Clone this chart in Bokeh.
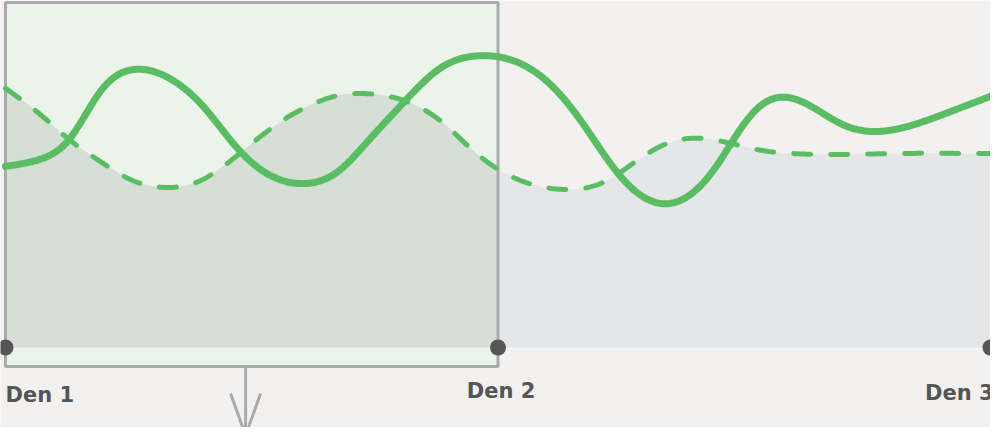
import numpy as np
from bokeh.plotting import figure
from bokeh.models import Range1d
from bokeh.core.properties import value
from bokeh.embed import file_html
from bokeh.resources import INLINE

# ---- data (hours from start of Den 1, value) ----
solid_x = [0, 1.6, 3.1, 4.7, 6.3, 7.9, 9.6, 11.4, 12.9, 14.5, 16.2, 17.6, 19.4, 21.1,
           23.3, 25.2, 26.7, 28.1, 29.9, 32.0, 33.5, 34.6, 35.7, 36.7, 37.7, 39.2,
           40.8, 42.3, 44.1, 46.2, 48.0]
solid_y = [52.5, 54.4, 60.3, 74.8, 80.6, 78.3, 70.1, 57.1, 49.9, 47.5, 51.0, 59.4, 71.0, 80.6,
           84.6, 82.0, 75.4, 65.2, 50.1, 41.7, 44.9, 52.2, 62.3, 69.6, 72.5, 70.1,
           64.6, 62.6, 64.3, 68.7, 72.8]

dash_x = [0, 1.7, 3.1, 4.7, 6.2, 7.75, 9.4, 11.4, 13.2, 14.8, 16.2, 17.5, 18.9,
          21.3, 22.9, 24.2, 25.7, 27.4, 29.1, 31.0, 32.5, 33.97, 35.4, 36.9, 38.4,
          43.2, 48.0]
dash_y = [75.1, 67.5, 60.3, 53.6, 48.4, 46.4, 48.1, 56.2, 64.6, 70.1, 73.0, 73.6, 72.5,
          65.2, 56.5, 51.0, 47.2, 45.8, 47.8, 55.1, 59.7, 60.6, 59.1, 57.1, 56.2,
          56.2, 56.2]

day_x = [0, 24, 48]
day_labels = ["Den 1", "Den 2", "Den 3"]
highlight = dict(left=0, right=24, bottom=-5.5, top=100)
arrow_x = 11.7

# ---- colours ----
BG = "#f2f1f0"
GREEN = "#5bbd63"
AREA = "#e5e6e8"
AREA_IN = "#d5dfd5"
RECT_FILL = "#ebf4e9"
RECT_LINE = "#a9aaae"
DARK = "#555555"

PX_X = 990 / 48.244      # pixels per hour
PX_Y = 427 / 123.77      # pixels per value unit


def smooth(xs, ys, n=1200):
    """Natural cubic spline rendering of a curve through the read points."""
    x = np.asarray(xs, float)
    y = np.asarray(ys, float)
    k = len(x)
    h = np.diff(x)
    A = np.zeros((k, k))
    b = np.zeros(k)
    A[0, 0] = A[-1, -1] = 1
    for i in range(1, k - 1):
        A[i, i - 1] = h[i - 1]
        A[i, i] = 2 * (h[i - 1] + h[i])
        A[i, i + 1] = h[i]
        b[i] = 6 * ((y[i + 1] - y[i]) / h[i] - (y[i] - y[i - 1]) / h[i - 1])
    M = np.linalg.solve(A, b)
    xx = np.linspace(x[0], x[-1], n)
    j = np.clip(np.searchsorted(x, xx) - 1, 0, k - 2)
    x0, x1, y0, y1, m0, m1, hj = x[j], x[j + 1], y[j], y[j + 1], M[j], M[j + 1], h[j]
    yy = (m0 * (x1 - xx) ** 3 / (6 * hj) + m1 * (xx - x0) ** 3 / (6 * hj)
          + (y0 / hj - m0 * hj / 6) * (x1 - xx) + (y1 / hj - m1 * hj / 6) * (xx - x0))
    return xx, yy


sx, sy = smooth(solid_x, solid_y)
dx, dy = smooth(dash_x, dash_y)

p = figure(width=990, height=427, output_backend="svg", toolbar_location=None,
           x_range=Range1d(-0.244, 48.0), y_range=Range1d(-23.19, 100.58),
           min_border=0, background_fill_color=BG, border_fill_color=BG,
           outline_line_color=None)
p.axis.visible = False
p.grid.visible = False

# highlight fill
p.quad(left=[highlight["left"]], right=[highlight["right"]], bottom=[highlight["bottom"]],
       top=[highlight["top"]], fill_color=RECT_FILL, line_color=None)

# area under dashed series
p.varea(x=dx, y1=0, y2=dy, fill_color=AREA)
mask = dx <= highlight["right"]
ix = np.append(dx[mask], highlight["right"])
iy = np.append(dy[mask], np.interp(highlight["right"], dx, dy))
p.varea(x=ix, y1=0, y2=iy, fill_color=AREA_IN)

# highlight border
p.quad(left=[highlight["left"]], right=[highlight["right"]], bottom=[highlight["bottom"]],
       top=[highlight["top"]], fill_color=None, line_color=RECT_LINE, line_width=3)

# lines
p.line(dx, dy, line_color=GREEN, line_width=5, line_dash="17 20", line_cap="round")
p.line(sx, sy, line_color=GREEN, line_width=7, line_cap="round", line_join="round")

# day markers
p.scatter(day_x, [0] * len(day_x), size=16, fill_color=DARK, line_color=None)

aligns = ["left", "center", "right"]
xoffs = [0, 3, 3]
yoffs = [3, -1, 1]
for xv, lab, al, xo, yo in zip(day_x, day_labels, aligns, xoffs, yoffs):
    p.text(x=[xv], y=[-13.0], text=[lab], text_align=al, text_baseline="middle",
           text_font=value("DejaVu Sans"), text_font_style="bold", text_font_size="21px",
           text_color=DARK, x_offset=xo, y_offset=yo)

# arrow pointing down from the highlight box
tip_y = highlight["bottom"] - 69 / PX_Y
arm_dx = 15 / PX_X
arm_dy = 42 / PX_Y
p.segment(x0=[arrow_x, arrow_x - arm_dx, arrow_x + arm_dx],
          y0=[highlight["bottom"], tip_y + arm_dy, tip_y + arm_dy],
          x1=[arrow_x, arrow_x, arrow_x], y1=[tip_y, tip_y, tip_y],
          line_color=RECT_LINE, line_width=3)

open("out.html", "w").write(file_html(p, INLINE))
